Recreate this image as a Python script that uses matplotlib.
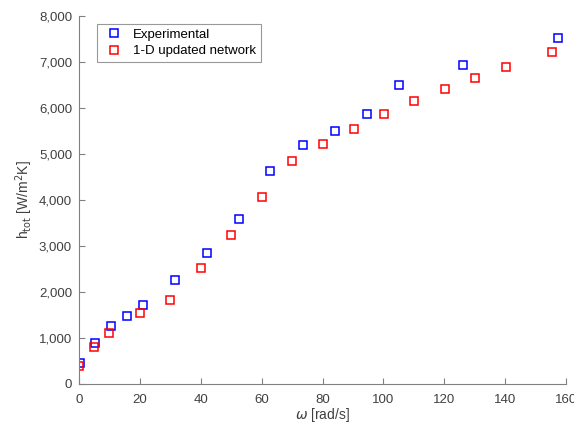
import matplotlib
matplotlib.use('Agg')
import matplotlib.pyplot as plt
from matplotlib.ticker import FuncFormatter

# angular speed [rad/s] and heat transfer coefficient [W/m^2K]
omega_exp = [0.4, 5.3, 10.5, 15.8, 21.1, 31.6, 42.2, 52.5, 62.9, 73.6, 84.0, 94.6, 105.1, 126.1, 157.5]
h_exp = [463, 885, 1267, 1485, 1724, 2254, 2841, 3587, 4637, 5202, 5507, 5863, 6500, 6941, 7515]

omega_net = [0.0, 4.9, 10.0, 19.9, 30.0, 40.0, 50.1, 60.1, 70.0, 80.2, 90.2, 100.2, 110.0, 120.3, 130.2, 140.2, 155.3]
h_net = [398, 804, 1115, 1537, 1826, 2515, 3246, 4059, 4848, 5217, 5550, 5863, 6152, 6413, 6659, 6891, 7211]

plt.rcParams['font.family'] = ['Liberation Sans', 'DejaVu Sans']

axis_col = '#808080'
text_col = '#404040'

fig = plt.figure(figsize=(5.74, 4.25), dpi=100)
ax = fig.add_axes([79 / 574, 41 / 425, 487 / 574, 368 / 425])

ax.plot(omega_exp, h_exp, linestyle='none', marker='s', markersize=6,
        markerfacecolor='none', markeredgecolor='#0000ff', markeredgewidth=1.1,
        label='Experimental')
ax.plot(omega_net, h_net, linestyle='none', marker='s', markersize=6,
        markerfacecolor='none', markeredgecolor='#ff0000', markeredgewidth=1.1,
        label='1-D updated network')

ax.set_xlim(0, 160)
ax.set_ylim(0, 8000)
ax.set_xticks(range(0, 161, 20))
ax.set_yticks(range(0, 8001, 1000))
ax.yaxis.set_major_formatter(FuncFormatter(lambda v, p: f'{int(v):,}'))

for s in ['top', 'right']:
    ax.spines[s].set_visible(False)
for s in ['left', 'bottom']:
    ax.spines[s].set_color(axis_col)
    ax.spines[s].set_linewidth(0.8)
ax.tick_params(direction='in', length=4, width=0.8, color=axis_col,
               labelcolor=text_col, labelsize=9.5)
ax.tick_params(axis='x', pad=7)
ax.tick_params(axis='y', pad=5)

ax.set_xlabel(r'$\omega$ [rad/s]', color=text_col, fontsize=10, labelpad=0)
ax.set_ylabel(r'h$_{\mathrm{tot}}$ [W/m$^{2}$K]', color=text_col, fontsize=10, labelpad=3)

leg = ax.legend(loc='upper left', bbox_to_anchor=(0.037, 0.978), borderaxespad=0,
                fontsize=9.5, frameon=True, fancybox=False, borderpad=0.35,
                handletextpad=0.6, labelspacing=0.3, handlelength=1.8)
leg.get_frame().set_edgecolor(axis_col)
leg.get_frame().set_linewidth(0.8)
for t in leg.get_texts():
    t.set_color('#000000')

fig.savefig('out.png', dpi=100)
